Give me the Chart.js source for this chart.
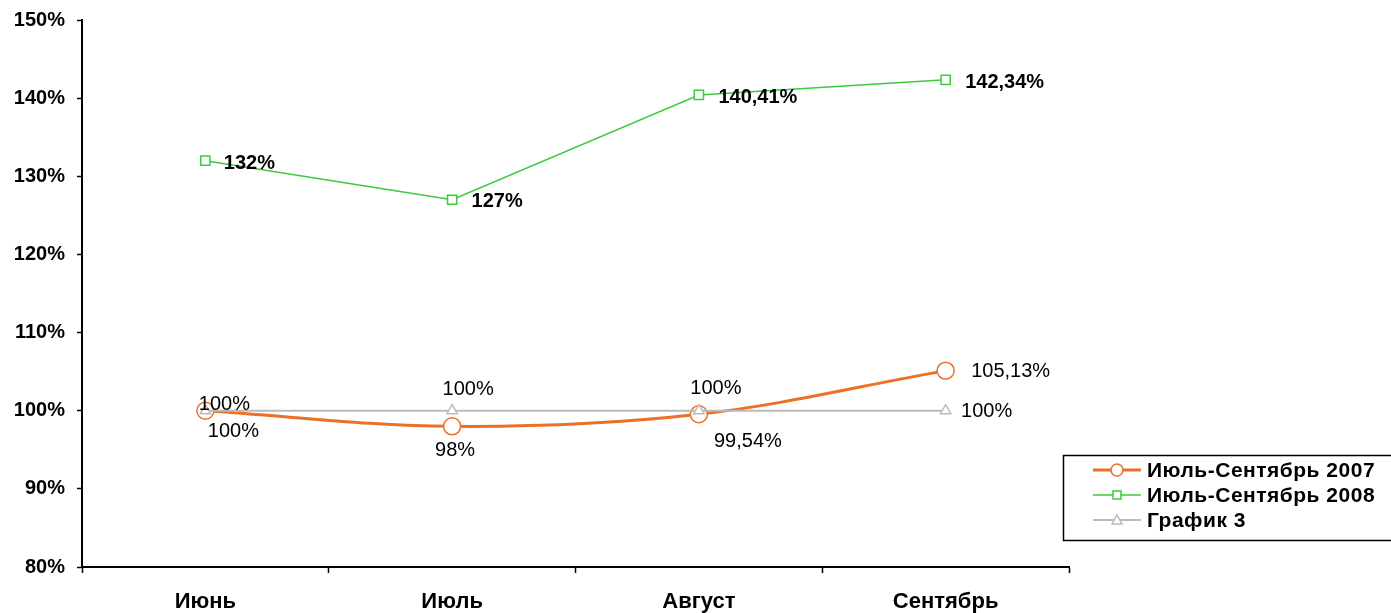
<!DOCTYPE html>
<html>
<head>
<meta charset="utf-8">
<script src="https://cdn.jsdelivr.net/npm/chart.js@4/dist/chart.umd.min.js"></script>
<style>
    html, body { margin: 0; padding: 0; background: #fff; }
    #wrap { width: 1391px; height: 613px; }
</style>
</head>
<body>
<div id="wrap"><canvas id="grafico"></canvas></div>
<script>
// Месяцы и значения рядов (в процентах)
const meses = ['Июнь', 'Июль', 'Август', 'Сентябрь'];
const serie2007 = [100, 98, 99.54, 105.13];
const serie2008 = [132, 127, 140.41, 142.34];
const serie3 = [100, 100, 100, 100];
const nombres = ['Июль-Сентябрь 2007', 'Июль-Сентябрь 2008', 'График 3'];

// Смещения подписей относительно точек (px)
const desplazamientos = [
    [[28, 21], [3, 24], [49, 27], [65, 1]],
    [[44, 3], [45, 2], [59, 3], [59, 3]],
    [[19, -6], [16, -21], [17, -22], [41, 1]]
];
const pesoEtiqueta = ['normal', 'bold', 'normal'];

const FUENTE = '"Liberation Sans", Arial, sans-serif';

function formatoPorcentaje(v) {
    return String(v).replace('.', ',') + '%';
}

// Подписи значений у каждой точки
const etiquetasPlugin = {
    id: 'etiquetas',
    afterDatasetsDraw(chart) {
        const ctx = chart.ctx;
        ctx.save();
        ctx.fillStyle = '#000';
        ctx.textAlign = 'center';
        ctx.textBaseline = 'middle';
        chart.data.datasets.forEach((ds, i) => {
            const meta = chart.getDatasetMeta(i);
            ctx.font = pesoEtiqueta[i] + ' 20px ' + FUENTE;
            meta.data.forEach((pt, j) => {
                const d = desplazamientos[i][j];
                ctx.fillText(formatoPorcentaje(ds.data[j]), pt.x + d[0], pt.y + d[1]);
            });
        });
        ctx.restore();
    }
};

function dibujarMarcador(ctx, estilo, x, y, r, color, fondo, grosor) {
    ctx.beginPath();
    if (estilo === 'circle') {
        ctx.arc(x, y, r, 0, Math.PI * 2);
    } else if (estilo === 'rect') {
        ctx.rect(x - r, y - r, r * 2, r * 2);
    } else if (estilo === 'triangle') {
        ctx.moveTo(x, y - r);
        ctx.lineTo(x + r, y + r * 0.8);
        ctx.lineTo(x - r, y + r * 0.8);
        ctx.closePath();
    }
    ctx.fillStyle = fondo;
    ctx.fill();
    ctx.strokeStyle = color;
    ctx.lineWidth = grosor;
    ctx.stroke();
}

// Легенда в рамке справа внизу
const leyendaPlugin = {
    id: 'leyendaCaja',
    afterDraw(chart) {
        const ctx = chart.ctx;
        ctx.save();
        ctx.strokeStyle = '#000';
        ctx.lineWidth = 1.5;
        ctx.strokeRect(1063.5, 455.5, 340, 85);
        const marcas = [[6, 'circle'], [4, 'rect'], [5, 'triangle']];
        chart.data.datasets.forEach((ds, i) => {
            const y = 470 + i * 25;
            ctx.beginPath();
            ctx.moveTo(1093, y);
            ctx.lineTo(1141, y);
            ctx.strokeStyle = ds.borderColor;
            ctx.lineWidth = ds.borderWidth;
            ctx.stroke();
            dibujarMarcador(ctx, marcas[i][1], 1117, y, marcas[i][0], ds.borderColor, '#fff', 1.5);
            ctx.fillStyle = '#000';
            ctx.font = 'bold 21px ' + FUENTE;
            ctx.letterSpacing = '0.5px';
            ctx.textAlign = 'left';
            ctx.textBaseline = 'middle';
            ctx.fillText(nombres[i], 1147, y + 1);
        });
        ctx.restore();
    }
};

const ctx = document.getElementById('grafico').getContext('2d');
new Chart(ctx, {
    type: 'line',
    data: {
        labels: meses,
        datasets: [{
            label: nombres[0],
            data: serie2007,
            borderColor: '#EC7026',
            backgroundColor: '#fff',
            borderWidth: 3,
            tension: 0.35,
            pointStyle: 'circle',
            pointRadius: 8.5,
            pointBorderWidth: 1.5,
            pointBackgroundColor: '#fff',
            order: 3
        }, {
            label: nombres[1],
            data: serie2008,
            borderColor: '#3DCB3D',
            backgroundColor: '#fff',
            borderWidth: 1.5,
            tension: 0,
            pointStyle: 'rect',
            pointRadius: 6.5,
            pointBorderWidth: 1.5,
            pointBackgroundColor: '#fff',
            order: 2
        }, {
            label: nombres[2],
            data: serie3,
            borderColor: '#BBBBBB',
            backgroundColor: '#fff',
            borderWidth: 2,
            tension: 0,
            pointStyle: 'triangle',
            pointRadius: 6,
            pointBorderWidth: 1.5,
            pointBackgroundColor: '#fff',
            order: 1
        }]
    },
    options: {
        responsive: true,
        maintainAspectRatio: false,
        animation: false,
        layout: { padding: { top: 20, right: 322, bottom: 0, left: 0 } },
        plugins: {
            legend: { display: false },
            tooltip: { enabled: false }
        },
        scales: {
            x: {
                offset: true,
                grid: {
                    offset: true,
                    drawOnChartArea: false,
                    color: '#000',
                    tickLength: 6,
                    tickWidth: 1.5
                },
                border: { color: '#000', width: 2 },
                ticks: {
                    color: '#000',
                    padding: 16,
                    font: { family: FUENTE, size: 22, weight: 'bold' }
                },
                afterFit: function(scale) { scale.height = 46; }
            },
            y: {
                min: 80,
                max: 150,
                grid: {
                    drawOnChartArea: false,
                    color: '#000',
                    tickLength: 5,
                    tickWidth: 1.5
                },
                border: { color: '#000', width: 2 },
                ticks: {
                    stepSize: 10,
                    color: '#000',
                    padding: 12,
                    font: { family: FUENTE, size: 20, weight: 'bold' },
                    callback: v => v + '%'
                },
                afterFit: function(scale) {
                    scale.width = 82;
                    scale.paddingTop = 0;
                    scale.paddingBottom = 0;
                }
            }
        }
    },
    plugins: [etiquetasPlugin, leyendaPlugin]
});
</script>
</body>
</html>
